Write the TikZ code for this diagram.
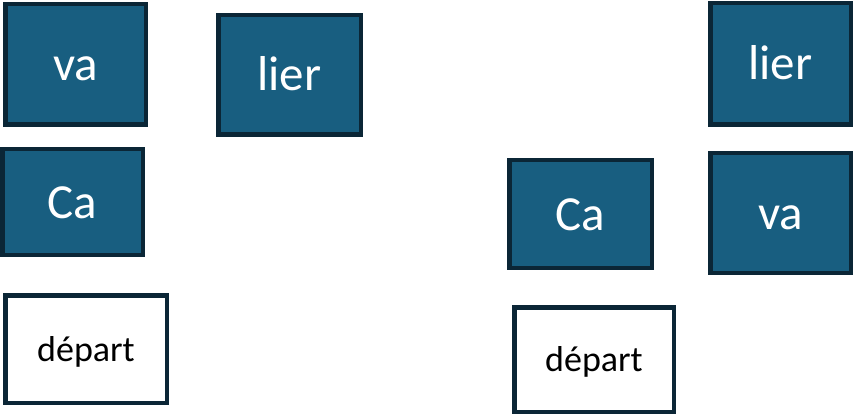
\documentclass[tikz,border=0pt]{standalone}
\usepackage{fontspec}
\setmainfont{Carlito}
\definecolor{tilefill}{RGB}{24,94,128}
\definecolor{tileline}{RGB}{11,38,54}

\begin{document}
\begin{tikzpicture}[x=1pt,y=-1pt,
    tile/.style={draw=tileline, line width=4.5pt, fill=tilefill, text=white,
                 font=\fontsize{49}{53}\selectfont, inner sep=0pt,
                 text height=36pt, text depth=4pt},
    start/.style={draw=tileline, line width=4.5pt, fill=white, text=black,
                  font=\fontsize{36}{40}\selectfont, inner sep=0pt,
                  text height=27pt, text depth=3pt}]
    \useasboundingbox (0,0) rectangle (853,414);

    % Before
    \node[tile, minimum width=140.5pt, minimum height=120.5pt] (va1) at (75.5,64.5) {va};
    \node[tile, minimum width=142.5pt, minimum height=119.5pt] (lier1) at (289.5,75) {lier};
    \node[tile, minimum width=140.5pt, minimum height=105.5pt] (ca1) at (72.5,202) {Ca};
    \node[start, minimum width=161.5pt, minimum height=107.5pt] (depart1) at (86,349) {départ};

    % After
    \node[tile, minimum width=140.5pt, minimum height=121.5pt] (lier2) at (780.5,64) {lier};
    \node[tile, minimum width=142.5pt, minimum height=107.5pt] (ca2) at (580.5,214) {Ca};
    \node[tile, minimum width=140.5pt, minimum height=119.5pt] (va2) at (780.5,213) {va};
    \node[start, minimum width=159.5pt, minimum height=104.5pt] (depart2) at (594,359.5) {départ};
\end{tikzpicture}
\end{document}
